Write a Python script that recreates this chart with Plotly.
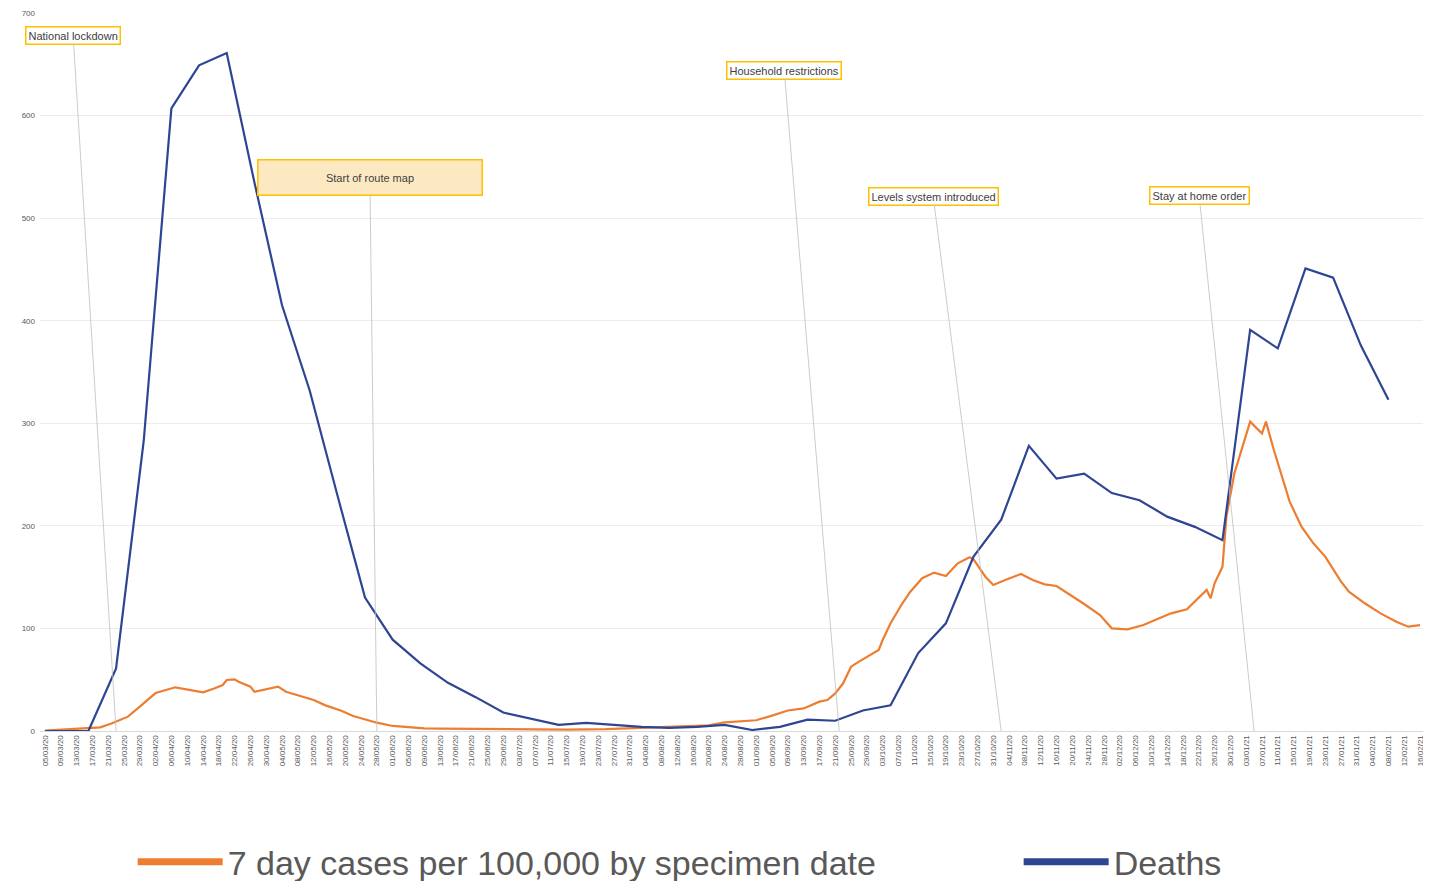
import pandas as pd
import plotly.graph_objects as go

# 7 day cases per 100,000 by specimen date
case_dates = [
    "2020-03-05", "2020-03-12", "2020-03-16", "2020-03-19", "2020-03-22", "2020-03-26",
    "2020-03-29", "2020-04-02", "2020-04-07", "2020-04-10", "2020-04-14", "2020-04-17",
    "2020-04-19", "2020-04-20", "2020-04-22", "2020-04-23", "2020-04-26", "2020-04-27",
    "2020-04-29", "2020-05-03", "2020-05-05", "2020-05-09", "2020-05-12", "2020-05-15",
    "2020-05-19", "2020-05-22", "2020-05-25", "2020-05-28", "2020-06-01", "2020-06-05",
    "2020-06-09", "2020-06-13", "2020-06-18", "2020-06-25", "2020-07-05", "2020-07-15",
    "2020-07-25", "2020-08-04", "2020-08-12", "2020-08-20", "2020-08-24", "2020-08-28",
    "2020-09-01", "2020-09-05", "2020-09-09", "2020-09-13", "2020-09-17", "2020-09-19",
    "2020-09-21", "2020-09-23", "2020-09-25", "2020-09-27", "2020-09-30", "2020-10-02",
    "2020-10-03", "2020-10-05", "2020-10-08", "2020-10-10", "2020-10-13", "2020-10-16",
    "2020-10-19", "2020-10-22", "2020-10-25", "2020-10-26", "2020-10-29", "2020-10-31",
    "2020-11-03", "2020-11-07", "2020-11-10", "2020-11-13", "2020-11-16", "2020-11-19",
    "2020-11-23", "2020-11-27", "2020-11-30", "2020-12-04", "2020-12-08", "2020-12-12",
    "2020-12-15", "2020-12-19", "2020-12-22", "2020-12-24", "2020-12-25", "2020-12-26",
    "2020-12-28", "2020-12-29", "2020-12-31", "2021-01-02", "2021-01-04", "2021-01-07",
    "2021-01-08", "2021-01-10", "2021-01-14", "2021-01-17", "2021-01-20", "2021-01-23",
    "2021-01-27", "2021-01-29", "2021-02-02", "2021-02-06", "2021-02-10", "2021-02-13",
    "2021-02-16",
]
case_values = [
    0.3, 2, 3, 3.6, 7.5, 14,
    23.7, 37, 42.6, 40.6, 37.7, 41.6,
    44.8, 49.7, 50.4, 48, 43.2, 38.3,
    40, 43.2, 38.3, 33.4, 30.2, 25,
    19.8, 14.6, 11.4, 8.1, 4.9, 3.6,
    2.6, 2.3, 2.2, 1.6, 1.2, 1.3,
    1.8, 3, 4.5, 5.5, 8.5, 9.5,
    10.5, 15, 20, 22, 28.6, 30.2,
    36.7, 46.5, 62.7, 67.6, 74, 79,
    88.7, 105, 124.5, 135.8, 148.9, 154.4,
    151, 163.5, 169.3, 167.4, 150.4, 142.3,
    147.2, 153, 147.2, 143, 141.4, 134.2,
    123.8, 113, 100.1, 99.1, 103.3, 109.9,
    114.7, 118.6, 129.4, 137.5, 129.4, 144,
    160.2, 209, 251, 277, 301.6, 290,
    301.6, 274, 223.6, 199.2, 183, 170,
    145.6, 135.8, 124.5, 114.7, 106.6, 101.7,
    103.3,
]

# weekly deaths (Mondays from 09/03/20), plus the start of the axis
death_values = [
    0, 0, 61, 283, 607, 649, 661, 535, 415, 332, 230, 130, 89, 66, 47, 33, 18,
    12, 6, 8, 6, 4, 3, 4, 6, 1, 4, 11, 10, 20, 25, 76, 105, 170, 206, 278, 246,
    251, 232, 225, 209, 199, 186, 391, 373, 451, 442, 376, 323,
]
death_dates = ["2020-03-05"] + list(
    pd.date_range("2020-03-09", periods=len(death_values), freq="7D").strftime("%Y-%m-%d")
)
death_values = [0] + death_values

# events: label, date, box centre offset from the arrow tip (px)
events = [
    ("National lockdown", "2020-03-23", -43, -696),
    ("Start of route map", "2020-05-28", -7, -554),
    ("Household restrictions", "2020-09-22", -55, -661),
    ("Levels system introduced", "2020-11-02", -68, -535),
    ("Stay at home order", "2021-01-05", -55, -536),
]

ORANGE = "#ED7D31"
BLUE = "#2E4593"
TEXT = "#595959"

fig = go.Figure()

fig.add_trace(go.Scatter(
    x=case_dates, y=case_values, mode="lines",
    line=dict(color=ORANGE, width=2.2), showlegend=False,
    name="7 day cases per 100,000 by specimen date",
))
fig.add_trace(go.Scatter(
    x=death_dates, y=death_values, mode="lines",
    line=dict(color=BLUE, width=2.2), showlegend=False,
    name="Deaths",
))

# legend-only entries so the legend lines can be thicker
fig.add_trace(go.Scatter(
    x=[None], y=[None], mode="lines", line=dict(color=ORANGE, width=7),
    name="7 day cases per 100,000 by specimen date", legend="legend",
))
fig.add_trace(go.Scatter(
    x=[None], y=[None], mode="lines", line=dict(color=BLUE, width=7),
    name="Deaths", legend="legend2",
))

for label, date, ax, ay in events:
    big = label == "Start of route map"
    fig.add_annotation(
        x=date, y=0, xref="x", yref="y",
        text=label, showarrow=True, arrowhead=0, arrowwidth=0.8,
        arrowcolor="#BFBFBF", ax=ax, ay=ay, standoff=0,
        font=dict(family="Liberation Sans", size=11, color="#404040"),
        bordercolor="#FFC000", borderwidth=1.5, borderpad=2,
        bgcolor="#FCE9C2" if big else "white",
        width=219 if big else None, height=30 if big else None,
    )

legend_style = dict(
    orientation="h", y=-0.1825, xanchor="left", yanchor="middle",
    font=dict(family="Liberation Sans", size=34, color=TEXT),
    itemwidth=85, bgcolor="rgba(0,0,0,0)",
)

# the page body adds an 8px offset, so the margins are trimmed to match
fig.update_layout(
    width=1431, height=881,
    margin=dict(l=32, r=14, t=5, b=158, autoexpand=False),
    plot_bgcolor="white", paper_bgcolor="white",
    font=dict(family="Liberation Sans", color=TEXT),
    legend=dict(x=0.0669, **legend_style),
    legend2=dict(x=0.7066, **legend_style),
)

fig.update_xaxes(
    type="date",
    range=["2020-03-03 18:00", "2021-02-17 06:00"],
    tick0="2020-03-05", dtick=4 * 86400000, tickformat="%d/%m/%y",
    tickangle=-90, tickfont=dict(size=8, color=TEXT),
    showgrid=False, showline=True, linecolor="#D9D9D9", linewidth=1,
    ticks="", zeroline=False, automargin=False,
)
fig.update_yaxes(
    range=[0, 700], dtick=100,
    tickfont=dict(size=8, color=TEXT),
    showgrid=True, gridcolor="#EDEDED", gridwidth=1,
    zeroline=False, ticks="", ticklabelstandoff=4, automargin=False,
)

fig.write_html("out.html")
